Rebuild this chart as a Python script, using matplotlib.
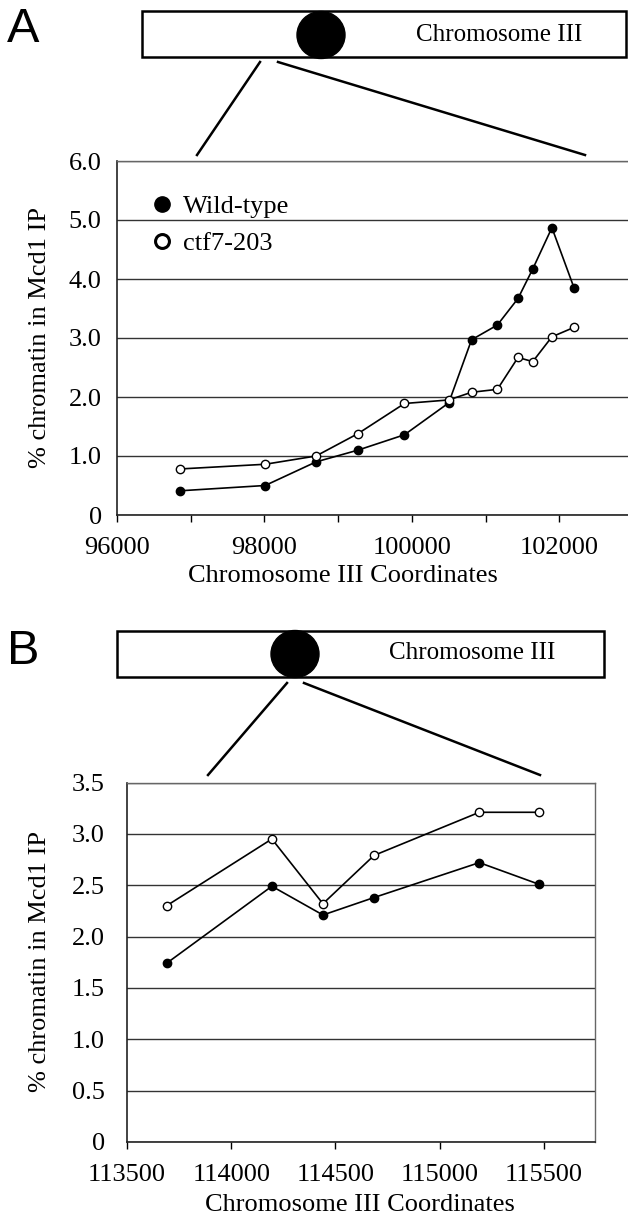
import matplotlib
matplotlib.use('Agg')
import matplotlib.pyplot as plt
from matplotlib.patches import Rectangle, Ellipse
from matplotlib.lines import Line2D

plt.rcParams['font.family'] = 'Liberation Serif'

# --- data ---
coords_a = [96850, 98010, 98700, 99270, 99900, 100500, 100810, 101160, 101440, 101640, 101900, 102200]
wt_a = [0.41, 0.50, 0.90, 1.10, 1.36, 1.90, 2.97, 3.22, 3.67, 4.17, 4.87, 3.85]
ctf_a = [0.78, 0.86, 1.00, 1.38, 1.89, 1.95, 2.08, 2.13, 2.67, 2.60, 3.02, 3.18]
xticks_a = [96000, 97000, 98000, 99000, 100000, 101000, 102000, 103000]
xlabels_a = ['96000', '', '98000', '', '100000', '', '102000', '']
yticks_a = [0, 1, 2, 3, 4, 5, 6]
ylabels_a = ['0', '1.0', '2.0', '3.0', '4.0', '5.0', '6.0']

coords_b = [113690, 114195, 114440, 114685, 115190, 115475]
wt_b = [1.74, 2.49, 2.21, 2.38, 2.72, 2.51]
ctf_b = [2.30, 2.95, 2.32, 2.79, 3.21, 3.21]
xticks_b = [113500, 114000, 114500, 115000, 115500]
yticks_b = [0, 0.5, 1.0, 1.5, 2.0, 2.5, 3.0, 3.5]
ylabels_b = ['0', '0.5', '1.0', '1.5', '2.0', '2.5', '3.0', '3.5']

W, H = 628, 1218
FS = 19

fig = plt.figure(figsize=(W / 100, H / 100), dpi=100)


def px(x0, y0, x1, y1):
    # pixel box (left, top, right, bottom) -> figure fraction rect
    return [x0 / W, 1 - y1 / H, (x1 - x0) / W, (y1 - y0) / H]


def style_axes(ax, ypad):
    ax.yaxis.grid(True, color='#333333', lw=1.0)
    ax.set_axisbelow(True)
    ax.tick_params(axis='y', length=0, pad=ypad, labelsize=FS)
    ax.tick_params(axis='x', direction='out', length=5, width=1, pad=10.5, labelsize=FS)
    for s in ['left', 'bottom']:
        ax.spines[s].set_color('#222222')
        ax.spines[s].set_linewidth(1.2)
    for s in ['top', 'right']:
        ax.spines[s].set_color('#666666')
        ax.spines[s].set_linewidth(1.0)


def draw_series(ax, x, wt, ctf):
    ax.plot(x, wt, color='black', lw=1.2, marker='o', ms=6, mfc='black', mec='black', zorder=3)
    ax.plot(x, ctf, color='black', lw=1.2, marker='o', ms=6, mfc='white', mec='black', mew=1.0, zorder=3)


# panel A
axA = fig.add_axes(px(117, 161, 633, 515))
draw_series(axA, coords_a, wt_a, ctf_a)
axA.set_xlim(96000, 103000)
axA.set_ylim(0, 6)
axA.set_xticks(xticks_a)
axA.set_xticklabels(xlabels_a)
axA.set_yticks(yticks_a)
axA.set_yticklabels(ylabels_a)
style_axes(axA, 11)
handles = [Line2D([], [], ls='none', marker='o', ms=11, mfc='black', mec='black'),
           Line2D([], [], ls='none', marker='o', ms=10, mfc='white', mec='black', mew=2.2)]
axA.legend(handles, ['Wild-type', 'ctf7-203'], loc='upper left', bbox_to_anchor=(0.071, 0.905),
           frameon=False, fontsize=FS, handlelength=0.6, handletextpad=0.5,
           labelspacing=0.52, borderpad=0, borderaxespad=0)

# panel B
axB = fig.add_axes(px(127, 782.5, 595, 1142))
draw_series(axB, coords_b, wt_b, ctf_b)
axB.set_xlim(113500, 115745)
axB.set_ylim(0, 3.5)
axB.set_xticks(xticks_b)
axB.set_xticklabels([str(v) for v in xticks_b])
axB.set_yticks(yticks_b)
axB.set_yticklabels(ylabels_b)
style_axes(axB, 16)

# axis labels
fig.text(343 / W, 1 - 576 / H, 'Chromosome III Coordinates', fontsize=FS, ha='center', va='center')
fig.text(360 / W, 1 - 1205 / H, 'Chromosome III Coordinates', fontsize=FS, ha='center', va='center')
fig.text(40 / W, 1 - 338 / H, '% chromatin in Mcd1 IP', fontsize=FS, rotation=90, ha='center', va='center')
fig.text(40 / W, 1 - 962 / H, '% chromatin in Mcd1 IP', fontsize=FS, rotation=90, ha='center', va='center')

# chromosome schematics on an overlay in pixel units
ov = fig.add_axes([0, 0, 1, 1])
ov.set_xlim(0, W)
ov.set_ylim(H, 0)
ov.axis('off')
ov.patch.set_visible(False)

# (box left, top, right, bottom), centromere centre, text centre, zoom lines
schematics = [
    dict(box=(142, 11, 626, 57), cen=(321, 35), txt=(499, 35), label='A', lab=(23, 29.5),
         lines=[((260, 62), (197, 155)), ((278, 62), (585, 155))]),
    dict(box=(117, 631, 604, 677), cen=(295, 654), txt=(472, 653), label='B', lab=(23, 652),
         lines=[((287, 683), (208, 775)), ((304, 683), (540, 775))]),
]
for s in schematics:
    x0, y0, x1, y1 = s['box']
    ov.add_patch(Rectangle((x0, y0), x1 - x0, y1 - y0, fill=False, ec='black', lw=1.8))
    ov.add_patch(Ellipse(s['cen'], 48, 47, fc='black', ec='black'))
    ov.text(*s['txt'], 'Chromosome III', fontsize=18, ha='center', va='center')
    ov.text(*s['lab'], s['label'], fontsize=35, family='Liberation Sans', ha='center', va='center')
    for (a, b) in s['lines']:
        ov.plot([a[0], b[0]], [a[1], b[1]], color='black', lw=1.8)

fig.savefig('out.png', dpi=100)
